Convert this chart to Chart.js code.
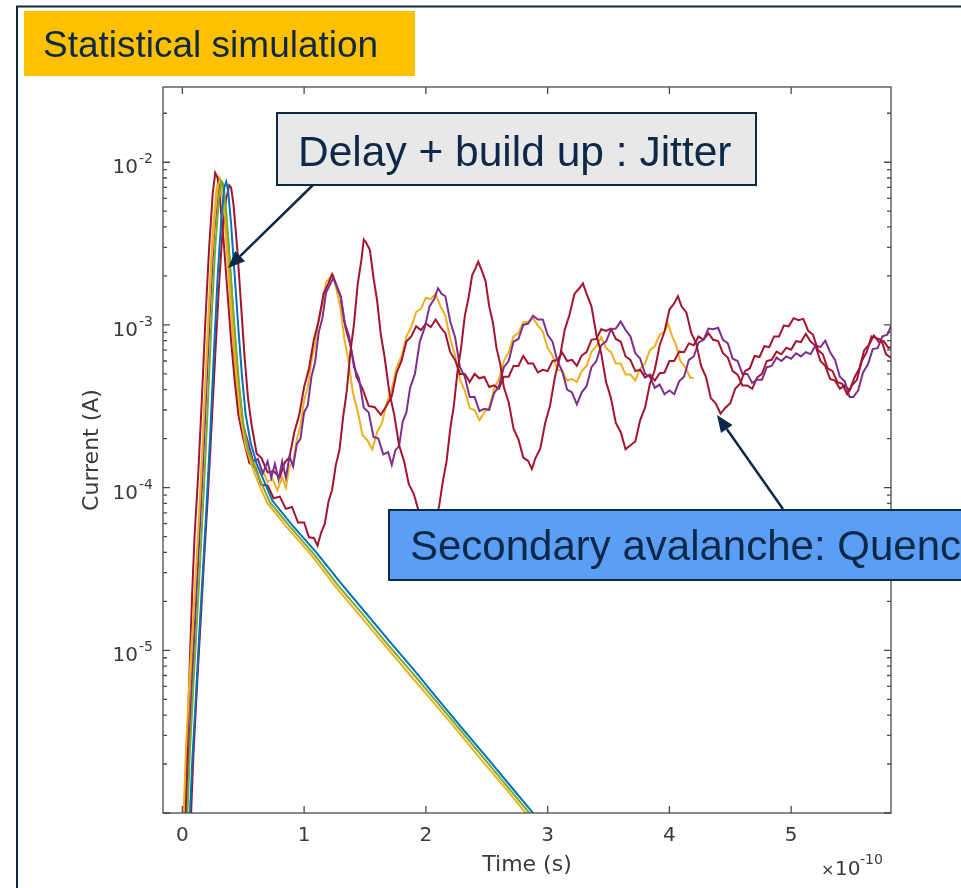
<!DOCTYPE html>
<html>
<head>
<meta charset="utf-8">
<script src="https://cdn.jsdelivr.net/npm/chart.js@4.4.1/dist/chart.umd.min.js"></script>
<style>
  html, body { margin: 0; padding: 0; background: #fff; }
  canvas { display: block; }
</style>
</head>
<body>
<canvas id="currentChart" width="961" height="888"></canvas>
<script>
// time in units of 1e-10 s, current in A
const xTicks = [0, 1, 2, 3, 4, 5];
const xTickLabels = ['0', '1', '2', '3', '4', '5'];
const yTicks = [1e-2, 1e-3, 1e-4, 1e-5];
const yTickExps = ['-2', '-3', '-4', '-5'];

const blueTrace = [[0.05,6e-7],[0.08,2e-6],[0.11,5e-6],[0.14,1.3e-5],[0.17,3.2e-5],[0.2,8e-5],[0.23,2.2e-4],[0.26,7e-4],[0.29,2e-3],[0.32,4.5e-3],[0.345,7e-3],[0.36,7.6e-3],[0.375,6.8e-3],[0.4,4.2e-3],[0.43,2e-3],[0.46,9.5e-4],[0.49,4.8e-4],[0.52,2.8e-4],[0.56,1.9e-4],[0.61,1.4e-4],[0.67,1.1e-4],[0.74,8.3e-5],[0.9,5.9e-5],[1.1,4e-5],[1.3,2.6e-5],[1.5,1.72e-5],[1.7,1.14e-5],[1.9,7.6e-6],[2.1,5e-6],[2.3,3.3e-6],[2.5,2.2e-6],[2.7,1.45e-6],[2.9,9.6e-7],[3.0,7.8e-7]];

const greenTrace = [[0.03,6e-7],[0.06,2.2e-6],[0.09,6e-6],[0.12,1.5e-5],[0.15,4e-5],[0.18,1.1e-4],[0.21,3.3e-4],[0.24,1.1e-3],[0.27,3e-3],[0.3,6e-3],[0.32,7.7e-3],[0.335,7.4e-3],[0.355,5.5e-3],[0.38,3.2e-3],[0.41,1.5e-3],[0.44,7.5e-4],[0.47,4e-4],[0.5,2.5e-4],[0.54,1.7e-4],[0.6,1.3e-4],[0.66,1.02e-4],[0.72,8.1e-5],[0.88,5.8e-5],[1.08,3.9e-5],[1.28,2.5e-5],[1.48,1.67e-5],[1.68,1.1e-5],[1.88,7.4e-6],[2.08,4.9e-6],[2.28,3.25e-6],[2.48,2.15e-6],[2.68,1.42e-6],[2.88,9.4e-7],[2.98,7.7e-7]];

const yellowDecayTrace = [[0.0,6e-7],[0.03,2.5e-6],[0.06,7e-6],[0.09,1.6e-5],[0.12,4e-5],[0.15,1e-4],[0.18,3e-4],[0.21,9e-4],[0.24,2.5e-3],[0.27,5e-3],[0.295,7.3e-3],[0.31,7.8e-3],[0.33,6.6e-3],[0.36,4e-3],[0.39,1.9e-3],[0.42,9e-4],[0.45,4.6e-4],[0.48,2.7e-4],[0.52,1.8e-4],[0.58,1.3e-4],[0.64,1e-4],[0.7,8e-5],[0.86,5.7e-5],[1.06,3.85e-5],[1.26,2.45e-5],[1.46,1.63e-5],[1.66,1.08e-5],[1.86,7.2e-6],[2.06,4.8e-6],[2.26,3.2e-6],[2.46,2.1e-6],[2.66,1.4e-6],[2.86,9.2e-7],[2.96,7.6e-7]];

const purpleTrace = [[0.02,6e-7],[0.05,2e-6],[0.08,6.5e-6],[0.11,1.8e-5],[0.14,5e-5],[0.17,1.4e-4],[0.2,4.5e-4],[0.23,1.4e-3],[0.26,3.6e-3],[0.29,6.3e-3],[0.31,7.6e-3],[0.33,7.2e-3],[0.35,5.4e-3],[0.38,2.9e-3],[0.41,1.4e-3],[0.44,6.8e-4],[0.47,3.7e-4],[0.5,2.4e-4],[0.54,1.9e-4],[0.58,1.45e-4],[0.62,1.5e-4],[0.66,1.22e-4],[0.7,1.45e-4],[0.73,1.15e-4],[0.76,1.4e-4],[0.79,1.12e-4],[0.82,1.45e-4],[0.85,1.15e-4],[0.88,1.55e-4],[0.91,1.35e-4],[0.94,1.85e-4],[0.97,2e-4],[1.0,2.9e-4],[1.03,3.2e-4],[1.06,4.8e-4],[1.09,5.9e-4],[1.12,9e-4],[1.15,1.1e-3],[1.18,1.58e-3],[1.21,1.75e-3],[1.24,1.95e-3],[1.27,1.7e-3],[1.3,1.5e-3],[1.33,1.05e-3],[1.37,8.5e-4],[1.41,5.5e-4],[1.45,4.7e-4],[1.49,3.1e-4],[1.53,2.9e-4],[1.57,2.05e-4],[1.61,2e-4],[1.65,1.6e-4],[1.69,1.65e-4],[1.72,1.38e-4],[1.75,1.7e-4],[1.78,1.8e-4],[1.81,2.55e-4],[1.84,2.9e-4],[1.87,4.1e-4],[1.91,5e-4],[1.95,7.9e-4],[1.99,9.6e-4],[2.03,1.3e-3],[2.07,1.45e-3],[2.1,1.68e-3],[2.13,1.55e-3],[2.16,1.5e-3],[2.2,1.05e-3],[2.24,8.4e-4],[2.28,5.5e-4],[2.32,4.8e-4],[2.36,3.6e-4],[2.4,3.6e-4],[2.44,2.95e-4],[2.48,3.05e-4],[2.52,3e-4],[2.56,3.8e-4],[2.6,4.2e-4],[2.64,5.5e-4],[2.68,6e-4],[2.72,7.9e-4],[2.76,8.2e-4],[2.8,1e-3],[2.84,1.02e-3],[2.88,1.14e-3],[2.92,1.08e-3],[2.96,1.08e-3],[3.0,8.7e-4],[3.04,7.9e-4],[3.08,6e-4],[3.12,5.2e-4],[3.16,4e-4],[3.2,3.85e-4],[3.24,3.25e-4],[3.28,3.85e-4],[3.32,4.2e-4],[3.36,5.5e-4],[3.4,6e-4],[3.44,7.5e-4],[3.48,7.9e-4],[3.52,9.4e-4],[3.56,9.5e-4],[3.6,1.05e-3],[3.64,9.3e-4],[3.68,8.5e-4],[3.72,6.7e-4],[3.76,6.2e-4],[3.8,5e-4],[3.84,4.8e-4],[3.88,4.1e-4],[3.92,4.3e-4],[3.96,3.75e-4],[4.0,3.95e-4],[4.04,3.75e-4],[4.08,4.5e-4],[4.12,4.8e-4],[4.16,6.1e-4],[4.2,6.4e-4],[4.24,7.8e-4],[4.28,8.1e-4],[4.32,9.5e-4],[4.36,9.4e-4],[4.4,9.6e-4],[4.44,8.1e-4],[4.48,7.7e-4],[4.52,6.2e-4],[4.56,6e-4],[4.6,5e-4],[4.64,5e-4],[4.68,4.4e-4],[4.72,4.6e-4],[4.76,4.6e-4],[4.8,5.5e-4],[4.84,5.6e-4],[4.88,6.3e-4],[4.92,6e-4],[4.96,6.4e-4],[5.0,6.2e-4],[5.04,6.7e-4],[5.08,6.4e-4],[5.12,6.8e-4],[5.16,6.6e-4],[5.2,7.5e-4],[5.24,7.3e-4],[5.28,8e-4],[5.32,6.8e-4],[5.36,6.1e-4],[5.4,4.8e-4],[5.44,4.5e-4],[5.48,3.6e-4],[5.51,3.6e-4],[5.55,3.95e-4],[5.59,5.1e-4],[5.63,5.7e-4],[5.67,7.1e-4],[5.71,7.2e-4],[5.75,8.5e-4],[5.79,8.7e-4],[5.83,1.02e-3]];

const yellowOscTrace = [[0.01,6e-7],[0.04,2.4e-6],[0.07,7e-6],[0.1,1.9e-5],[0.13,5e-5],[0.16,1.4e-4],[0.19,4.5e-4],[0.22,1.4e-3],[0.25,3.8e-3],[0.28,6.8e-3],[0.3,8e-3],[0.32,7e-3],[0.345,4.6e-3],[0.37,2.6e-3],[0.4,1.2e-3],[0.43,5.8e-4],[0.46,3.2e-4],[0.5,2.2e-4],[0.54,1.52e-4],[0.58,1.48e-4],[0.62,1.22e-4],[0.66,1.28e-4],[0.7,1.08e-4],[0.74,1.14e-4],[0.78,9.6e-5],[0.82,1.16e-4],[0.85,1e-4],[0.88,1.36e-4],[0.91,1.44e-4],[0.94,1.98e-4],[0.97,2.4e-4],[1.0,3.45e-4],[1.03,4.15e-4],[1.06,6e-4],[1.09,7.5e-4],[1.12,1.1e-3],[1.15,1.35e-3],[1.18,1.82e-3],[1.21,1.95e-3],[1.24,2.02e-3],[1.27,1.6e-3],[1.3,1.25e-3],[1.33,8.2e-4],[1.36,6.3e-4],[1.4,3.85e-4],[1.44,2.95e-4],[1.48,2.1e-4],[1.52,1.95e-4],[1.56,1.72e-4],[1.6,2.2e-4],[1.64,2.5e-4],[1.68,3.35e-4],[1.72,4.05e-4],[1.76,5.5e-4],[1.8,6.4e-4],[1.84,8.5e-4],[1.88,9.7e-4],[1.92,1.2e-3],[1.96,1.26e-3],[2.0,1.47e-3],[2.04,1.44e-3],[2.08,1.55e-3],[2.12,1.3e-3],[2.16,1.14e-3],[2.2,8.2e-4],[2.24,6.5e-4],[2.28,4.6e-4],[2.32,3.95e-4],[2.36,3.08e-4],[2.4,3e-4],[2.44,2.6e-4],[2.48,2.9e-4],[2.52,3.1e-4],[2.56,4.05e-4],[2.6,4.65e-4],[2.64,6e-4],[2.68,6.8e-4],[2.72,8.5e-4],[2.76,8.9e-4],[2.8,1.04e-3],[2.84,1.04e-3],[2.88,1.1e-3],[2.92,9.9e-4],[2.96,9.1e-4],[3.0,7.2e-4],[3.04,6.5e-4],[3.08,5.3e-4],[3.12,5.2e-4],[3.16,4.55e-4],[3.2,4.65e-4],[3.24,4.45e-4],[3.28,5.2e-4],[3.32,5.6e-4],[3.36,6.85e-4],[3.4,7.4e-4],[3.44,8.4e-4],[3.48,7.2e-4],[3.52,6.8e-4],[3.56,5.8e-4],[3.6,5.8e-4],[3.64,4.95e-4],[3.68,4.95e-4],[3.72,4.55e-4],[3.76,5.4e-4],[3.8,5.8e-4],[3.84,7e-4],[3.88,7.4e-4],[3.92,8.7e-4],[3.96,9.1e-4],[3.99,1.02e-3],[4.02,8.6e-4],[4.05,7.7e-4],[4.09,6e-4],[4.13,5.5e-4],[4.17,4.75e-4],[4.2,4.7e-4]];

const redEarlyTrace = [[0.02,6e-7],[0.04,2.5e-6],[0.06,8e-6],[0.08,2.2e-5],[0.1,5e-5],[0.13,1.2e-4],[0.16,3.5e-4],[0.19,1.1e-3],[0.22,3e-3],[0.25,6.5e-3],[0.27,8.6e-3],[0.29,8e-3],[0.31,5.8e-3],[0.34,3.2e-3],[0.37,1.6e-3],[0.4,8e-4],[0.43,4.5e-4],[0.46,2.8e-4],[0.5,2e-4],[0.55,1.42e-4],[0.6,1.32e-4],[0.65,1.04e-4],[0.7,1.03e-4],[0.75,8.6e-5],[0.8,8.8e-5],[0.85,7.4e-5],[0.9,7.6e-5],[0.95,6.1e-5],[1.0,6.1e-5],[1.04,4.95e-5],[1.08,4.9e-5],[1.11,4.4e-5],[1.14,5.3e-5],[1.17,6e-5],[1.2,8.2e-5],[1.23,9.7e-5],[1.26,1.37e-4],[1.29,1.7e-4],[1.32,2.7e-4],[1.35,3.9e-4],[1.38,6.8e-4],[1.41,1.02e-3],[1.44,1.78e-3],[1.47,2.5e-3],[1.49,3.35e-3],[1.51,3.2e-3],[1.54,2.9e-3],[1.57,1.95e-3],[1.6,1.4e-3],[1.63,8.7e-4],[1.66,6.4e-4],[1.7,3.85e-4],[1.74,2.8e-4],[1.78,1.82e-4],[1.82,1.46e-4],[1.86,1.05e-4],[1.9,9.2e-5],[1.94,7.2e-5],[1.98,6.2e-5],[2.02,5.6e-5],[2.05,5.5e-5],[2.08,6.2e-5],[2.11,7.8e-5],[2.14,1.1e-4],[2.17,1.45e-4],[2.2,2.3e-4],[2.23,3.2e-4],[2.26,5.2e-4],[2.29,7.3e-4],[2.32,1.14e-3],[2.35,1.46e-3],[2.38,2.02e-3],[2.41,2.25e-3],[2.43,2.45e-3],[2.46,2.15e-3],[2.49,1.86e-3],[2.52,1.3e-3],[2.55,1.04e-3],[2.58,7.2e-4],[2.61,5.8e-4],[2.64,4.15e-4],[2.68,3.35e-4],[2.72,2.3e-4],[2.76,1.98e-4],[2.8,1.53e-4],[2.84,1.46e-4],[2.87,1.3e-4],[2.9,1.52e-4],[2.94,1.74e-4],[2.98,2.5e-4],[3.02,3.2e-4],[3.06,4.8e-4],[3.1,6.3e-4],[3.14,9.3e-4],[3.18,1.16e-3],[3.22,1.55e-3],[3.26,1.68e-3],[3.29,1.8e-3],[3.32,1.55e-3],[3.36,1.3e-3],[3.4,8.7e-4],[3.44,6.7e-4],[3.48,4.45e-4],[3.52,3.55e-4],[3.56,2.5e-4],[3.6,2.2e-4],[3.64,1.72e-4],[3.68,1.82e-4],[3.72,1.92e-4],[3.76,2.6e-4],[3.8,3.1e-4],[3.84,4.35e-4],[3.88,5.3e-4],[3.92,7.5e-4],[3.96,9.1e-4],[4.0,1.24e-3],[4.04,1.36e-3],[4.07,1.5e-3],[4.1,1.3e-3],[4.14,1.19e-3],[4.18,8.9e-4],[4.22,7.7e-4],[4.26,5.6e-4],[4.3,4.8e-4],[4.34,3.55e-4],[4.38,3.3e-4],[4.42,2.85e-4],[4.46,3.1e-4],[4.5,3.3e-4],[4.54,4.05e-4],[4.58,4.35e-4],[4.62,5.2e-4],[4.66,5.4e-4],[4.7,6.45e-4],[4.74,6.35e-4],[4.78,7.4e-4],[4.82,7.3e-4],[4.86,8.5e-4],[4.9,8.5e-4],[4.94,9.9e-4],[4.98,9.8e-4],[5.02,1.1e-3],[5.06,1.07e-3],[5.1,1.09e-3],[5.14,9.2e-4],[5.18,8.7e-4],[5.22,7e-4],[5.26,6.6e-4],[5.3,5.4e-4],[5.34,5.2e-4],[5.38,4.45e-4],[5.42,4.35e-4],[5.46,3.75e-4],[5.5,4.25e-4],[5.54,4.6e-4],[5.58,6e-4],[5.62,6.8e-4],[5.66,8.5e-4],[5.7,8.3e-4],[5.74,8.1e-4],[5.78,6.6e-4],[5.83,6.2e-4]];

const redLateTrace = [[0.06,6e-7],[0.09,2.2e-6],[0.12,6e-6],[0.15,1.5e-5],[0.18,3.8e-5],[0.21,9e-5],[0.24,2.4e-4],[0.27,6.5e-4],[0.3,1.7e-3],[0.33,3.8e-3],[0.36,6e-3],[0.385,7.2e-3],[0.4,7e-3],[0.42,5.5e-3],[0.45,3e-3],[0.48,1.4e-3],[0.51,6.5e-4],[0.54,3.5e-4],[0.57,2.4e-4],[0.61,1.62e-4],[0.65,1.52e-4],[0.7,1.24e-4],[0.75,1.26e-4],[0.8,1.16e-4],[0.84,1.42e-4],[0.88,1.54e-4],[0.92,2.2e-4],[0.96,2.8e-4],[1.0,4.15e-4],[1.04,5.4e-4],[1.08,8.1e-4],[1.12,1.06e-3],[1.16,1.56e-3],[1.2,1.8e-3],[1.23,2.05e-3],[1.26,1.8e-3],[1.3,1.5e-3],[1.34,9.6e-4],[1.38,7.5e-4],[1.43,4.8e-4],[1.48,4.05e-4],[1.53,3.18e-4],[1.58,3.12e-4],[1.63,2.8e-4],[1.68,3.22e-4],[1.72,3.65e-4],[1.76,5.1e-4],[1.8,6e-4],[1.84,7.9e-4],[1.88,8.5e-4],[1.92,9.8e-4],[1.96,9.3e-4],[2.0,1.02e-3],[2.04,9.7e-4],[2.08,1.08e-3],[2.12,9.7e-4],[2.16,8.9e-4],[2.2,6.8e-4],[2.24,6.1e-4],[2.28,5e-4],[2.32,5e-4],[2.36,4.45e-4],[2.4,5e-4],[2.44,4.7e-4],[2.48,4.8e-4],[2.52,4.15e-4],[2.56,4.25e-4],[2.6,4.05e-4],[2.64,4.8e-4],[2.68,4.8e-4],[2.72,5.6e-4],[2.76,5.6e-4],[2.8,6.45e-4],[2.84,5.8e-4],[2.88,5.8e-4],[2.92,5.1e-4],[2.96,5.3e-4],[3.0,5.2e-4],[3.04,6e-4],[3.08,6.1e-4],[3.12,6.75e-4],[3.16,6e-4],[3.2,6.1e-4],[3.24,5.6e-4],[3.28,6.5e-4],[3.32,6.8e-4],[3.36,8.1e-4],[3.4,8.2e-4],[3.44,9.4e-4],[3.48,9.2e-4],[3.52,9.5e-4],[3.56,8.2e-4],[3.6,7.9e-4],[3.64,6.4e-4],[3.68,6.1e-4],[3.72,5.2e-4],[3.76,5.3e-4],[3.8,4.75e-4],[3.84,4.95e-4],[3.88,4.55e-4],[3.92,5.05e-4],[3.96,5.1e-4],[4.0,6e-4],[4.04,6e-4],[4.08,6.85e-4],[4.12,6.8e-4],[4.16,7.7e-4],[4.2,7.5e-4],[4.24,8.5e-4],[4.28,8.1e-4],[4.32,8.9e-4],[4.36,8.1e-4],[4.4,7.95e-4],[4.44,6.7e-4],[4.48,6.3e-4],[4.52,5.2e-4],[4.56,4.95e-4],[4.6,4.25e-4],[4.64,4.25e-4],[4.68,4.05e-4],[4.72,4.75e-4],[4.76,5e-4],[4.8,6e-4],[4.84,6.1e-4],[4.88,6.85e-4],[4.92,6.6e-4],[4.96,7.25e-4],[5.0,7.05e-4],[5.04,7.95e-4],[5.08,7.85e-4],[5.12,8.8e-4],[5.16,7.9e-4],[5.2,7.45e-4],[5.24,6e-4],[5.28,5.6e-4],[5.32,4.65e-4],[5.36,4.55e-4],[5.4,4.05e-4],[5.44,4.25e-4],[5.48,3.95e-4],[5.52,4.75e-4],[5.56,5.4e-4],[5.6,7e-4],[5.64,7.55e-4],[5.68,8.6e-4],[5.72,7.85e-4],[5.76,7.95e-4],[5.8,7.2e-4],[5.83,7.4e-4]];

// dataset 0 is drawn on top
const traces = [
  { data: blueTrace, color: '#0072BD' },
  { data: greenTrace, color: '#77AC30' },
  { data: yellowDecayTrace, color: '#EDB120' },
  { data: redEarlyTrace, color: '#A2142F' },
  { data: purpleTrace, color: '#7E2F8E' },
  { data: redLateTrace, color: '#A2142F' },
  { data: yellowOscTrace, color: '#EDB120' }
];

const NAVY = '#0E2847';
const AXIS = '#4a4a4a';
const LABEL = '#3a3a3a';

function arrow(ctx, x0, y0, x1, y1) {
  const ang = Math.atan2(y1 - y0, x1 - x0);
  const head = 17, half = 7;
  const bx = x1 - head * Math.cos(ang), by = y1 - head * Math.sin(ang);
  ctx.beginPath();
  ctx.moveTo(x0, y0);
  ctx.lineTo(bx, by);
  ctx.stroke();
  ctx.beginPath();
  ctx.moveTo(x1, y1);
  ctx.lineTo(bx + half * Math.sin(ang), by - half * Math.cos(ang));
  ctx.lineTo(bx - half * Math.sin(ang), by + half * Math.cos(ang));
  ctx.closePath();
  ctx.fill();
}

const axesPlugin = {
  id: 'axesPlugin',
  afterDatasetsDraw(chart) {
    const { ctx, chartArea: { left, right, top, bottom }, scales: { x, y } } = chart;
    ctx.save();
    ctx.strokeStyle = AXIS;
    ctx.lineWidth = 1.3;
    ctx.strokeRect(left, top, right - left, bottom - top);

    // ticks point inwards, on all four sides
    ctx.beginPath();
    xTicks.forEach(t => {
      const px = x.getPixelForValue(t);
      ctx.moveTo(px, bottom); ctx.lineTo(px, bottom - 7);
      ctx.moveTo(px, top); ctx.lineTo(px, top + 7);
    });
    for (let d = -6; d <= -2; d++) {
      for (let m = 1; m <= 9; m++) {
        const v = m * Math.pow(10, d);
        if (v < y.min || v > y.max) continue;
        const py = y.getPixelForValue(v);
        const len = m === 1 ? 7 : 4;
        ctx.moveTo(left, py); ctx.lineTo(left + len, py);
        ctx.moveTo(right, py); ctx.lineTo(right - len, py);
      }
    }
    ctx.stroke();

    ctx.fillStyle = LABEL;
    ctx.textBaseline = 'alphabetic';
    ctx.font = '20px "DejaVu Sans"';
    ctx.textAlign = 'center';
    xTicks.forEach((t, i) => ctx.fillText(xTickLabels[i], x.getPixelForValue(t), 841));

    yTicks.forEach((t, i) => {
      const py = y.getPixelForValue(t);
      ctx.font = '20px "DejaVu Sans"';
      ctx.textAlign = 'right';
      ctx.fillText('10', 138, py + 11);
      ctx.font = '14px "DejaVu Sans"';
      ctx.textAlign = 'left';
      ctx.fillText(yTickExps[i], 139, py + 1);
    });

    ctx.font = '22px "DejaVu Sans"';
    ctx.textAlign = 'center';
    ctx.fillText('Time (s)', 527, 871);

    ctx.save();
    ctx.translate(98, 450);
    ctx.rotate(-Math.PI / 2);
    ctx.fillText('Current (A)', 0, 0);
    ctx.restore();

    ctx.textAlign = 'left';
    ctx.font = '16px "DejaVu Sans"';
    ctx.fillText('\u00d7', 821, 875);
    ctx.font = '20px "DejaVu Sans"';
    ctx.fillText('10', 835, 875);
    ctx.font = '14px "DejaVu Sans"';
    ctx.fillText('-10', 860, 864);
    ctx.restore();
  },
  afterDraw(chart) {
    const { ctx } = chart;
    ctx.save();
    // slide frame
    ctx.strokeStyle = NAVY;
    ctx.lineWidth = 2;
    ctx.beginPath();
    ctx.moveTo(17, 900); ctx.lineTo(17, 6.5); ctx.lineTo(970, 6.5);
    ctx.stroke();

    // title
    ctx.fillStyle = '#FFC000';
    ctx.fillRect(24, 11, 391, 65);
    ctx.fillStyle = NAVY;
    ctx.font = '37px "Liberation Sans", Arial, sans-serif';
    ctx.textAlign = 'left';
    ctx.textBaseline = 'alphabetic';
    ctx.fillText('Statistical simulation', 43, 57);

    // jitter callout
    ctx.fillStyle = '#E8E8E8';
    ctx.fillRect(277, 113, 479, 72);
    ctx.strokeStyle = NAVY;
    ctx.lineWidth = 2;
    ctx.strokeRect(277, 113, 479, 72);
    ctx.fillStyle = NAVY;
    ctx.font = '42.5px "Liberation Sans", Arial, sans-serif';
    ctx.fillText('Delay + build up : Jitter', 298, 166);
    ctx.lineWidth = 2.5;
    arrow(ctx, 313, 185, 228, 268);

    // quenching callout
    ctx.fillStyle = '#5A9FF5';
    ctx.fillRect(389, 510, 600, 70);
    ctx.lineWidth = 2;
    ctx.strokeRect(389, 510, 600, 70);
    ctx.fillStyle = NAVY;
    ctx.font = '42px "Liberation Sans", Arial, sans-serif';
    ctx.fillText('Secondary avalanche: Quenching', 410, 560);
    ctx.lineWidth = 2.5;
    arrow(ctx, 783, 509, 717, 415);
    ctx.restore();
  }
};

const ctx = document.getElementById('currentChart').getContext('2d');

new Chart(ctx, {
  type: 'line',
  data: {
    datasets: traces.map(t => ({
      data: t.data.map(p => ({ x: p[0], y: p[1] })),
      borderColor: t.color,
      borderWidth: 2,
      pointRadius: 0,
      tension: 0,
      fill: false
    }))
  },
  options: {
    responsive: false,
    animation: false,
    devicePixelRatio: 1,
    layout: { padding: { left: 163, right: 70, top: 87, bottom: 75 } },
    scales: {
      x: { type: 'linear', min: -0.159, max: 5.82, display: false },
      y: { type: 'logarithmic', min: 1e-6, max: 2.9e-2, display: false }
    },
    plugins: {
      legend: { display: false },
      tooltip: { enabled: false }
    }
  },
  plugins: [axesPlugin]
});
</script>
</body>
</html>
